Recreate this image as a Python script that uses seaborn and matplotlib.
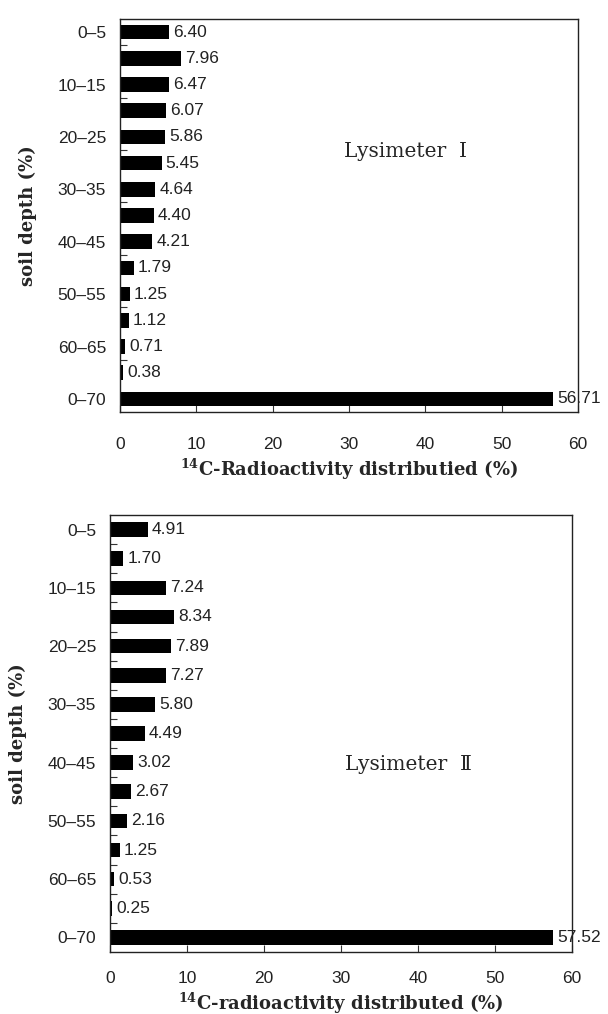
import matplotlib
matplotlib.use("Agg")
import matplotlib.pyplot as plt
import seaborn as sns
import pandas as pd

# soil layers (cm) plus the whole-profile total
depths = ["0–5", "5–10", "10–15", "15–20", "20–25", "25–30", "30–35",
          "35–40", "40–45", "45–50", "50–55", "55–60", "60–65", "65–70", "0–70"]

# 14C radioactivity distributed (%) per layer
lys1 = [6.40, 7.96, 6.47, 6.07, 5.86, 5.45, 4.64, 4.40, 4.21,
        1.79, 1.25, 1.12, 0.71, 0.38, 56.71]
lys2 = [4.91, 1.70, 7.24, 8.34, 7.89, 7.27, 5.80, 4.49, 3.02,
        2.67, 2.16, 1.25, 0.53, 0.25, 57.52]

xticks = [0, 10, 20, 30, 40, 50, 60]

sns.set_style("ticks")
plt.rcParams["mathtext.fontset"] = "dejavuserif"

W, H = 608, 1014
fig = plt.figure(figsize=(W / 100, H / 100), dpi=100)

label_font = dict(family="DejaVu Serif", fontweight="bold", fontsize=13)
num_font = dict(family="Liberation Sans", fontsize=12.5, color="#222222")


def panel(rect_px, values, bar_h, minor_step, xpad, xlabel, xlabel_off,
          title, title_pos):
    l, t, r, b = rect_px
    ax = fig.add_axes([l / W, 1 - b / H, (r - l) / W, (b - t) / H])
    df = pd.DataFrame({"depth": depths, "value": values})
    sns.barplot(data=df, x="value", y="depth", orient="h", color="black",
                width=bar_h, saturation=1, ax=ax, linewidth=0)
    n = len(depths)
    ax.set_xlim(0, 60)
    ax.set_ylim(n - 0.5, -0.5)
    ax.set_xticks(xticks)
    ax.set_xticklabels([str(v) for v in xticks], **num_font)
    # every other layer is named; small marks sit on the layer boundaries
    ax.set_yticks(range(0, n, 2))
    ax.set_yticklabels(depths[::2], **num_font)
    ax.set_yticks([i + 0.5 for i in range(0, n - 2 + minor_step, minor_step)
                   if i + 0.5 < n - 1], minor=True)
    ax.tick_params(axis="y", which="major", length=0, pad=10)
    ax.tick_params(axis="y", which="minor", direction="in", length=5, width=0.8,
                   color="#333333")
    ax.tick_params(axis="x", which="major", direction="in", length=5, width=0.8,
                   pad=xpad, color="#333333")
    for s in ax.spines.values():
        s.set_visible(True)
        s.set_color("#222222")
        s.set_linewidth(1.0)
    ax.bar_label(ax.containers[0], labels=[f"{v:.2f}" for v in values],
                 padding=3, **num_font)
    ax.set_ylabel("soil depth (%)", va="center", **label_font)
    ax.yaxis.set_label_coords(-92 / (r - l), 0.5)
    ax.set_xlabel(xlabel, va="center", **label_font)
    ax.xaxis.set_label_coords(0.5, -xlabel_off / (b - t))
    ax.text(title_pos[0], title_pos[1], title, transform=ax.transAxes,
            ha="center", va="center", fontsize=14.5,
            family=["DejaVu Serif", "Noto Sans CJK KR"])
    return ax


panel((120, 19, 578, 412), lys1, 0.55, 2, 18,
      r"$^{\mathbf{14}}$C-Radioactivity distributied (%)", 57,
      "Lysimeter  Ⅰ", (0.624, 0.662))
panel((110, 515, 572, 952), lys2, 0.5, 1, 14,
      r"$^{\mathbf{14}}$C-radioactivity distributed (%)", 51,
      "Lysimeter  Ⅱ", (0.646, 0.428))

fig.savefig("out.png", dpi=100, facecolor="white")
